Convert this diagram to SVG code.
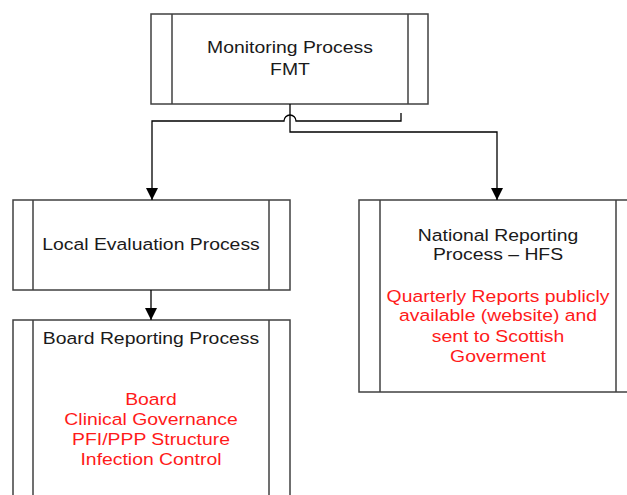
<svg xmlns="http://www.w3.org/2000/svg" width="627" height="495" viewBox="0 0 627 495">
<style>
.box{fill:#fff;stroke:#404040;stroke-width:1.5}
.bar{stroke:#404040;stroke-width:1.5}
.t{font-family:"Liberation Sans",Arial,sans-serif;font-size:17px;text-anchor:middle;fill:#1a1a1a}
.r{fill:#ff1a1a}
.c{fill:none;stroke:#000;stroke-width:1.3}
</style>
<defs>
<marker id="ah" viewBox="0 0 12 12" refX="12" refY="6" markerWidth="12" markerHeight="12" markerUnits="userSpaceOnUse" orient="auto">
<path d="M0,0 L12,6 L0,12 Z" fill="#000"/>
</marker>
</defs>
<g id="monitoring">
<rect class="box" x="151" y="14" width="277" height="90"/>
<line class="bar" x1="172" y1="14" x2="172" y2="104"/>
<line class="bar" x1="408" y1="14" x2="408" y2="104"/>
<g transform="translate(290,0) scale(1.14,1)">
<text class="t" x="0" y="53">Monitoring Process</text>
<text class="t" x="0" y="75">FMT</text>
</g>
</g>
<g id="local">
<rect class="box" x="13" y="200" width="277" height="90"/>
<line class="bar" x1="33" y1="200" x2="33" y2="290"/>
<line class="bar" x1="269" y1="200" x2="269" y2="290"/>
<g transform="translate(151,0) scale(1.14,1)">
<text class="t" x="0" y="250">Local Evaluation Process</text>
</g>
</g>
<g id="board">
<rect class="box" x="13" y="320" width="277" height="190"/>
<line class="bar" x1="33" y1="320" x2="33" y2="510"/>
<line class="bar" x1="269" y1="320" x2="269" y2="510"/>
<g transform="translate(151,0) scale(1.14,1)">
<text class="t" x="0" y="344">Board Reporting Process</text>
<text class="t r" x="0" y="405">Board</text>
<text class="t r" x="0" y="425">Clinical Governance</text>
<text class="t r" x="0" y="445">PFI/PPP Structure</text>
<text class="t r" x="0" y="465">Infection Control</text>
</g>
</g>
<g id="national">
<rect class="box" x="359" y="200" width="277" height="192"/>
<line class="bar" x1="380" y1="200" x2="380" y2="392"/>
<line class="bar" x1="616" y1="200" x2="616" y2="392"/>
<g transform="translate(498,0) scale(1.14,1)">
<text class="t" x="0" y="241">National Reporting</text>
<text class="t" x="0" y="260">Process – HFS</text>
<text class="t r" x="0" y="302">Quarterly Reports publicly</text>
<text class="t r" x="0" y="321">available (website) and</text>
<text class="t r" x="0" y="342">sent to Scottish</text>
<text class="t r" x="0" y="362">Goverment</text>
</g>
</g>
<g id="connectors">
<path class="c" d="M290,104 V132 H497 V200" marker-end="url(#ah)"/>
<path class="c" d="M401,113 V121 H296 A6,6 0 0 0 284,121 H152 V200" marker-end="url(#ah)"/>
<path class="c" d="M151,290 V320" marker-end="url(#ah)"/>
</g>
</svg>
